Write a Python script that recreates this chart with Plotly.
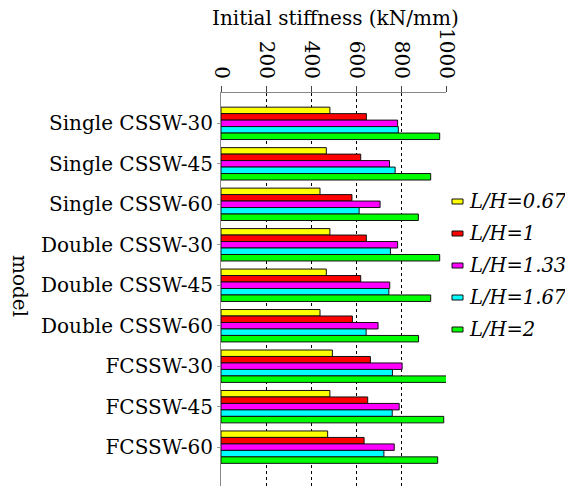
import plotly.graph_objects as go

# Wall models (top to bottom) and the aspect ratios L/H shown for each
models = ["Single CSSW-30", "Single CSSW-45", "Single CSSW-60",
          "Double CSSW-30", "Double CSSW-45", "Double CSSW-60",
          "FCSSW-30", "FCSSW-45", "FCSSW-60"]

# Initial stiffness (kN/mm) per aspect ratio
k_067 = [484, 468, 440, 484, 468, 440, 495, 484, 474]
k_100 = [646, 621, 582, 646, 621, 584, 664, 652, 636]
k_133 = [785, 749, 707, 785, 750, 698, 805, 792, 770]
k_167 = [788, 774, 614, 753, 746, 645, 762, 761, 724]
k_200 = [972, 932, 877, 972, 932, 878, 1003, 990, 963]

series_names = ["L/H=0.67", "L/H=1", "L/H=1.33", "L/H=1.67", "L/H=2"]
series_values = [k_067, k_100, k_133, k_167, k_200]
series_colors = ["#FFFF00", "#FF0000", "#FF00FF", "#00FFFF", "#00FF00"]

x_ticks = [0, 200, 400, 600, 800, 1000]

FONT = "DejaVu Serif"
SIZE = 20

L, R, T, B = 221, 119, 93, 0
W, H = 565, 486
plot_w = W - L - R
plot_h = H - T - B


def px_x(x):
    """Horizontal pixel position -> paper coordinate."""
    return (x - L) / plot_w


def px_y(y):
    """Vertical pixel position (from top) -> paper coordinate."""
    return 1 - (y - T) / plot_h


fig = go.Figure()
for name, vals, color in zip(series_names, series_values, series_colors):
    fig.add_trace(go.Bar(
        y=list(range(len(models))), x=vals, name=name, orientation="h",
        marker=dict(color=color, line=dict(color="#111111", width=1)),
        showlegend=False,
    ))

# Compact legend: thin colour swatch followed by an italic label
shapes = []
annotations = []
for i, (name, color) in enumerate(zip(series_names, series_colors)):
    yc = 201.5 + 32 * i
    shapes.append(dict(type="rect", xref="paper", yref="paper",
                       x0=px_x(452), x1=px_x(463),
                       y0=px_y(yc - 2.5), y1=px_y(yc + 2.5),
                       fillcolor=color, line=dict(color="#111111", width=1)))
    annotations.append(dict(text=f"<i>{name}</i>", xref="paper", yref="paper",
                            x=px_x(467), y=px_y(yc), xanchor="left",
                            yanchor="middle", showarrow=False,
                            font=dict(family=FONT, size=19.5)))

# Axis titles
annotations.append(dict(text="Initial stiffness (kN/mm)",
                        x=px_x(335), y=px_y(18),
                        xref="paper", yref="paper", showarrow=False,
                        xanchor="center", yanchor="middle",
                        font=dict(family=FONT, size=SIZE)))
annotations.append(dict(text="model", textangle=90,
                        x=px_x(20), y=px_y(286),
                        xref="paper", yref="paper", showarrow=False,
                        xanchor="center", yanchor="middle",
                        font=dict(family=FONT, size=SIZE)))

fig.update_layout(
    width=W, height=H,
    margin=dict(l=L, r=R, t=T, b=B, autoexpand=False),
    paper_bgcolor="white", plot_bgcolor="white",
    barmode="group", bargap=0.2, bargroupgap=0,
    font=dict(family=FONT, size=SIZE, color="black"),
    showlegend=False,
    xaxis=dict(
        side="top", range=[0, 1000], tickvals=x_ticks,
        tickangle=90, ticks="outside", ticklen=6, tickcolor="#444444",
        showline=True, linecolor="#888888", linewidth=1,
        showgrid=True, gridcolor="#000000", gridwidth=1, griddash="3px,3px",
        zeroline=False,
        tickfont=dict(family=FONT, size=SIZE),
    ),
    yaxis=dict(
        range=[8.96, -0.75], tickvals=list(range(len(models))), ticktext=models,
        ticks="outside", ticklen=3, tickcolor="#999999",
        showline=True, linecolor="#888888", linewidth=1,
        showgrid=False, zeroline=False,
        tickfont=dict(family=FONT, size=SIZE),
    ),
    shapes=shapes,
    annotations=annotations,
)

fig.write_html("out.html")
